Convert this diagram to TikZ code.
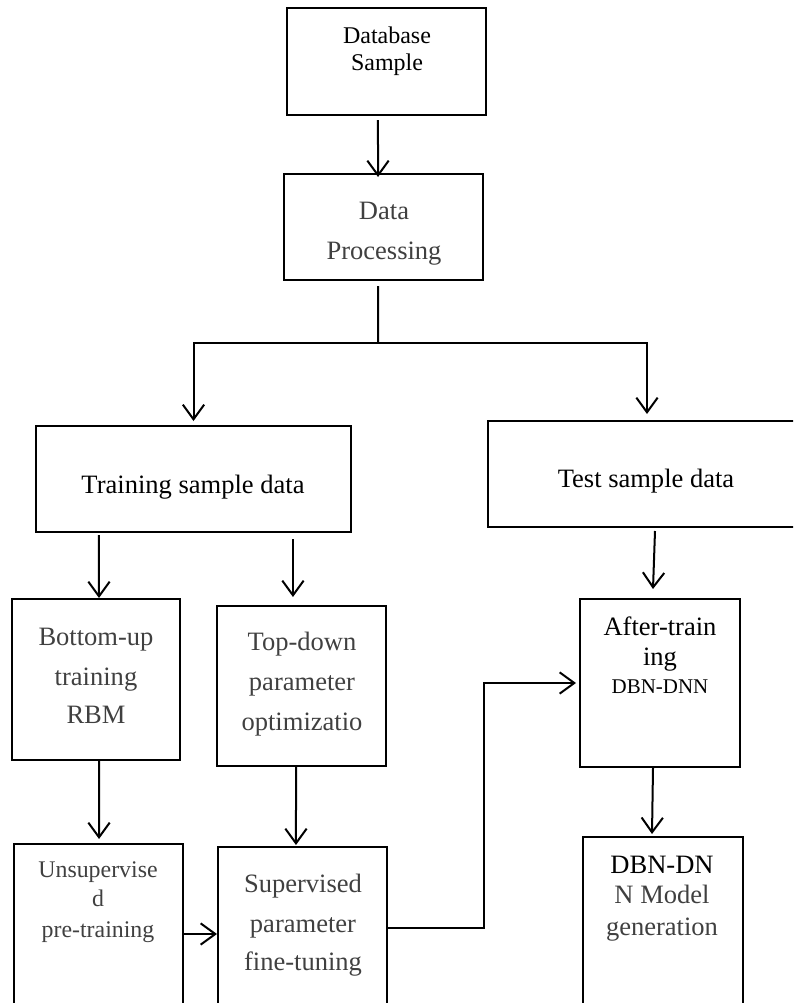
\documentclass[tikz,border=0pt]{standalone}
\usepackage{fontspec}
\setmainfont{Liberation Serif}
\usetikzlibrary{fit,arrows.meta}
\definecolor{txtgray}{HTML}{404040}
\begin{document}
\begin{tikzpicture}[x=0.75pt,y=-0.75pt,
  box/.style={draw,line width=1.5pt,inner sep=0pt},
  arr/.style={line width=1.5pt,-{Straight Barb[length=11pt,width=16pt]}},
  lbl/.style={inner sep=0pt,anchor=base},
  big/.style={font=\fontsize{19.9}{23}\selectfont},
  mid/.style={font=\fontsize{18}{21}\selectfont},
  uns/.style={font=\fontsize{17.9}{21}\selectfont},
  sml/.style={font=\fontsize{15.7}{18}\selectfont},
  dim/.style={text=txtgray}]
\useasboundingbox (0,0) rectangle (793,1003);
\clip (0,0) rectangle (793,1003);
% boxes
\node[box, fit={(287,8) (486,115)}] (db) {};
\node[box, fit={(284,174) (483,280)}] (dp) {};
\node[box, fit={(36,426) (351,532)}] (train) {};
\node[box, fit={(488,421) (806,527)}] (test) {};
\node[box, fit={(12,599) (180,760)}] (bu) {};
\node[box, fit={(217,606) (386,766)}] (td) {};
\node[box, fit={(580,599) (740,767)}] (at) {};
\node[box, fit={(14,844) (183,1020)}] (un) {};
\node[box, fit={(218,847) (387,1020)}] (sup) {};
\node[box, fit={(583,837) (743,1020)}] (dbn) {};
% texts
\node[lbl,mid] (db1) at (387,43) {Database};
\node[lbl,mid] (db2) at (387,70) {Sample};
\node[lbl,big,dim] (dp1) at (384,219) {Data};
\node[lbl,big,dim] (dp2) at (384,259) {Processing};
\node[lbl,big] (tr1) at (193,493) {Training sample data};
\node[lbl,big] (te1) at (646,487) {Test sample data};
\node[lbl,big,dim] (bu1) at (96,645) {Bottom-up};
\node[lbl,big,dim] (bu2) at (96,685) {training};
\node[lbl,big,dim] (bu3) at (96,723) {RBM};
\node[lbl,big,dim] (td1) at (302,650) {Top-down};
\node[lbl,big,dim] (td2) at (302,690) {parameter};
\node[lbl,big,dim] (td3) at (302,730) {optimizatio};
\node[lbl,big] (at1) at (660,635) {After-train};
\node[lbl,big] (at2) at (660,665) {ing};
\node[lbl,sml] (at3) at (660,693) {DBN-DNN};
\node[lbl,uns,dim] (un1) at (98,877) {Unsupervise};
\node[lbl,uns,dim] (un2) at (98,906) {d};
\node[lbl,uns,dim] (un3) at (98,937) {pre-training};
\node[lbl,big,dim] (su1) at (303,892) {Supervised};
\node[lbl,big,dim] (su2) at (303,932) {parameter};
\node[lbl,big,dim] (su3) at (303,970) {fine-tuning};
\node[lbl,big] (dn1) at (662,873) {DBN-DN};
\node[lbl,big,dim] (dn2) at (662,903) {N Model};
\node[lbl,big,dim] (dn3) at (662,935) {generation};
% connectors
\coordinate (split) at (378,343);
\coordinate (turn) at (484,683);
\draw[arr] ([xshift=-6.4pt,yshift=-3pt]db.south) -- ([xshift=-4.1pt,yshift=-3pt]dp.north);
\draw[line width=1.5pt] ([xshift=-4.1pt,yshift=-3.75pt]dp.south) -- (split);
\draw[arr] (split) -| ([yshift=3pt]train.north);
\draw[arr] (split) -| ([yshift=4.5pt]test.north);
\draw[arr] ([xshift=-70.9pt,yshift=-1.5pt]train.south) -- ([xshift=2.25pt]bu.north);
\draw[arr] ([xshift=74.6pt,yshift=-4.5pt]train.south) -- ([xshift=-6.4pt,yshift=6pt]td.north);
\draw[arr] ([xshift=6pt,yshift=-2.25pt]test.south) -- ([xshift=-5.25pt,yshift=6.75pt]at.north);
\draw[arr] ([xshift=2.25pt]bu.south) -- ([xshift=0.4pt,yshift=3pt]un.north);
\draw[arr] ([xshift=-4.1pt]td.south) -- ([xshift=-4.9pt,yshift=0.75pt]sup.north);
\draw[arr] ([xshift=-5.25pt]at.south) -- ([xshift=-8.25pt,yshift=1.5pt]dbn.north);
\draw[arr] ([yshift=-1.5pt]un.east) -- ([yshift=-1.5pt]un.east -| sup.west);
\draw[arr] ([yshift=4.1pt]sup.east) -| (turn) -- ([xshift=-2.25pt]at.west);
\end{tikzpicture}
\end{document}
